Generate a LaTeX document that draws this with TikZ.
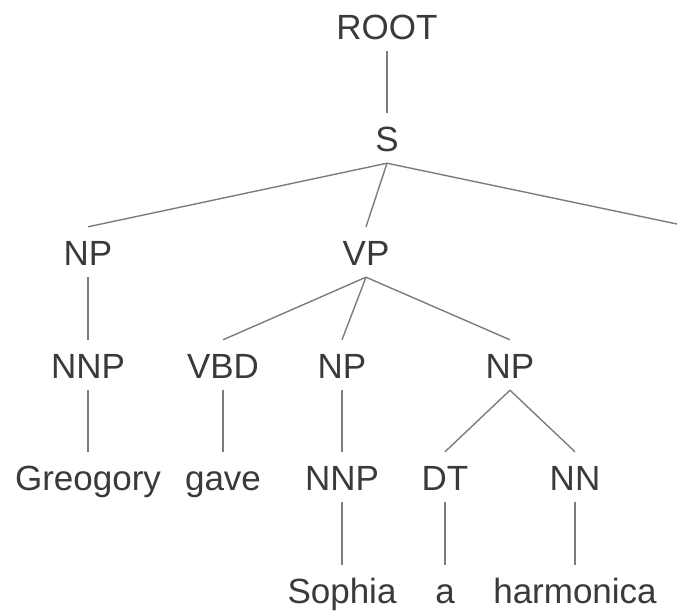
\documentclass[tikz,border=0pt]{standalone}
\usepackage{fontspec}
\setmainfont{Liberation Sans}
\definecolor{labelgray}{HTML}{3A3A3A}
\definecolor{edgegray}{HTML}{7C7C7C}
\begin{document}
\begin{tikzpicture}[x=1pt, y=-1pt,
  tag/.style={anchor=base, inner sep=0pt, text height=38pt, text depth=12pt,
    text=labelgray, font=\fontsize{35}{40}\selectfont},
  edge/.style={draw=edgegray, line width=1.4pt}]
  \useasboundingbox (0,0) rectangle (677,611);

  % labels, placed by baseline
  \node[tag] (root) at (387,39) {ROOT};
  \node[tag] (s)    at (387,151) {S};
  \node[tag] (np1)  at (88,265) {NP};
  \node[tag] (vp)   at (366,265) {VP};
  \node[tag] (nnp1) at (88,378) {NNP};
  \node[tag] (vbd)  at (223,378) {VBD};
  \node[tag] (np2)  at (342,378) {NP};
  \node[tag] (np3)  at (510,378) {NP};
  \node[tag] (greg) at (88,490) {Greogory};
  \node[tag] (gave) at (223,490) {gave};
  \node[tag] (nnp2) at (342,490) {NNP};
  \node[tag] (dt)   at (445,490) {DT};
  \node[tag] (nn)   at (575,490) {NN};
  \node[tag] (soph) at (342,603) {Sophia};
  \node[tag] (det)  at (445,603) {a};
  \node[tag] (harm) at (575,603) {harmonica};
  \coordinate (sright) at (677,224);

  % branches
  \draw[edge] (root.south) -- (s.north);
  \draw[edge] (s.south) -- (np1.north);
  \draw[edge] (s.south) -- (vp.north);
  \draw[edge] (s.south) -- (sright);
  \draw[edge] (np1.south) -- (nnp1.north);
  \draw[edge] (nnp1.south) -- (greg.north);
  \draw[edge] (vp.south) -- (vbd.north);
  \draw[edge] (vp.south) -- (np2.north);
  \draw[edge] (vp.south) -- (np3.north);
  \draw[edge] (vbd.south) -- (gave.north);
  \draw[edge] (np2.south) -- (nnp2.north);
  \draw[edge] (nnp2.south) -- (soph.north);
  \draw[edge] (np3.south) -- (dt.north);
  \draw[edge] (np3.south) -- (nn.north);
  \draw[edge] (dt.south) -- (det.north);
  \draw[edge] (nn.south) -- (harm.north);
\end{tikzpicture}
\end{document}
